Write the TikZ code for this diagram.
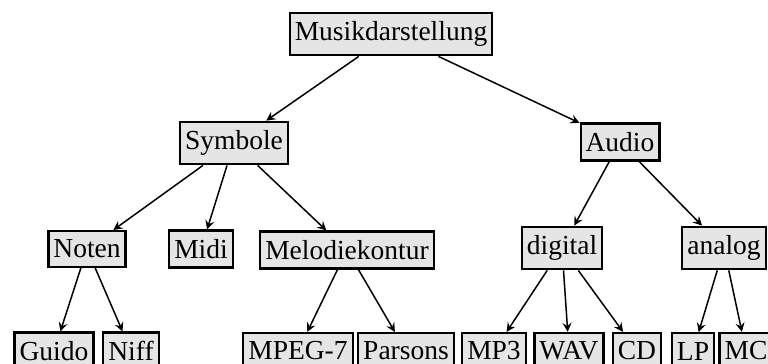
\documentclass[tikz,border=0pt]{standalone}
\usepackage{fontspec}
\setmainfont{Liberation Serif}
\usepackage{tikz}
\usetikzlibrary{arrows}
\definecolor{Black}{rgb}{0.0,0.0,0.0}
\definecolor{Grey}{rgb}{0.9,0.9,0.9}

\begin{document}
\begin{tikzpicture}[x=0.4pt,y=-0.4pt,
    box/.style={draw=Black,fill=Grey,line width=0.9pt,inner xsep=2pt,inner ysep=3.5pt,
      font=\fontsize{11}{13}\selectfont},
    link/.style={->,Black,line width=0.6pt,-stealth}]

    \clip (0,0) rectangle (768,363);  % picture frame

    % root
    \node[box] (musik) at (391,34) {Musikdarstellung};

    % first level
    \node[box] (symbole) at (234,143) {Symbole};
    \node[box] (audio) at (620,142) {Audio};

    % second level
    \node[box] (noten) at (87,249) {Noten};
    \node[box] (midi) at (201,249) {Midi};
    \node[box] (melodie) at (347,250) {Melodiekontur};
    \node[box] (digital) at (562,248) {digital};
    \node[box] (analog) at (724,248) {analog};

    % leaves
    \node[box] (guido) at (54,351) {Guido};
    \node[box] (niff) at (131,351) {Niff};
    \node[box] (mpeg) at (298,351) {MPEG-7};
    \node[box] (parsons) at (406,351) {Parsons};
    \node[box] (mp3) at (494,351) {MP3};
    \node[box] (wav) at (569,351) {WAV};
    \node[box] (cd) at (637,351) {CD};
    \node[box] (lp) at (693,351) {LP};
    \node[box] (mc) at (746,351) {MC};

    % arrows
    \draw[link] (musik) -- (symbole);
    \draw[link] (musik) -- (audio);
    \draw[link] (symbole) -- (noten);
    \draw[link] (symbole) -- (midi);
    \draw[link] (symbole) -- (melodie);
    \draw[link] (audio) -- (digital);
    \draw[link] (audio) -- (analog);
    \draw[link] (noten) -- (guido);
    \draw[link] (noten) -- (niff);
    \draw[link] (melodie) -- (mpeg);
    \draw[link] (melodie) -- (parsons);
    \draw[link] (digital) -- (mp3);
    \draw[link] (digital) -- (wav);
    \draw[link] (digital) -- (cd);
    \draw[link] (analog) -- (lp);
    \draw[link] (analog) -- (mc);

\end{tikzpicture}
\end{document}
